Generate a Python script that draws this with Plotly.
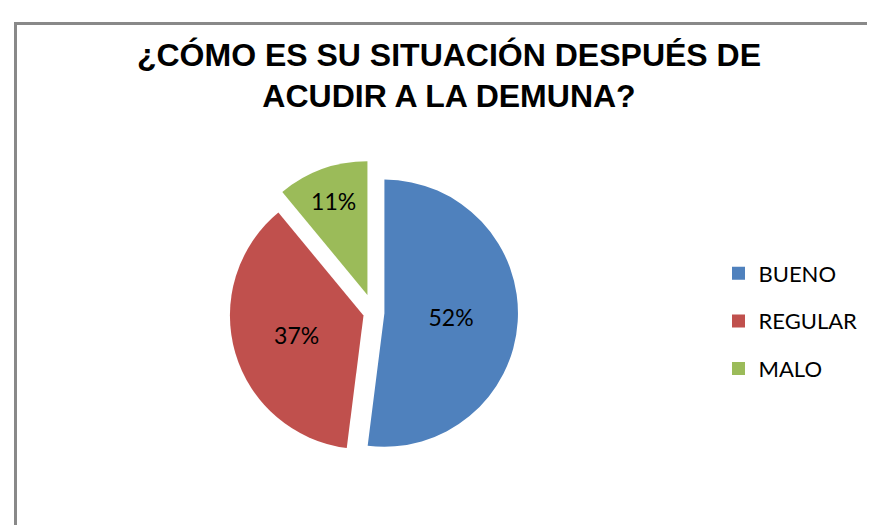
import plotly.graph_objects as go

categories = ["BUENO", "REGULAR", "MALO"]
values = [52, 37, 11]
colors = ["#4F81BD", "#C0504D", "#9BBB59"]
pulls = [0.08, 0.08, 0.14]
title_text = "<b>¿CÓMO ES SU SITUACIÓN DESPUÉS DE<br>ACUDIR A LA DEMUNA?</b>"

fig = go.Figure()
fig.add_trace(go.Pie(
    labels=categories, values=values, sort=False, direction="clockwise", rotation=0,
    marker=dict(colors=colors, line=dict(width=0)),
    pull=pulls, textinfo="percent", textposition="inside",
    insidetextorientation="horizontal",
    textfont=dict(family="Lato", size=23, color="black"),
    showlegend=False,
    domain=dict(x=[0.06, 0.776], y=[0.13, 0.71]),
    hoverinfo="label+percent",
))
for c, col in zip(categories, colors):
    fig.add_trace(go.Scatter(
        x=[None], y=[None], mode="markers", name=c, legendgroup=c,
        marker=dict(symbol="square", size=13, color=col),
    ))

fig.update_layout(
    width=875, height=525, margin=dict(l=0, r=0, t=0, b=0),
    paper_bgcolor="white", plot_bgcolor="white",
    title=dict(text=title_text, x=0.504, xanchor="center", y=0.89, yanchor="top",
               font=dict(family="Liberation Sans", size=32, color="black")),
    xaxis=dict(visible=False), yaxis=dict(visible=False),
    legend=dict(x=0.812, y=1 - 313 / 525, xanchor="left", yanchor="middle",
                font=dict(family="Lato", size=22, color="black"),
                tracegroupgap=16, traceorder="grouped", itemclick=False),
    shapes=[dict(type="rect", xref="paper", yref="paper", x0=7.5 / 875, x1=1.05,
                 y0=-0.05, y1=1 - 15.5 / 525, line=dict(color="#898989", width=3))],
)
fig.write_html("out.html")
